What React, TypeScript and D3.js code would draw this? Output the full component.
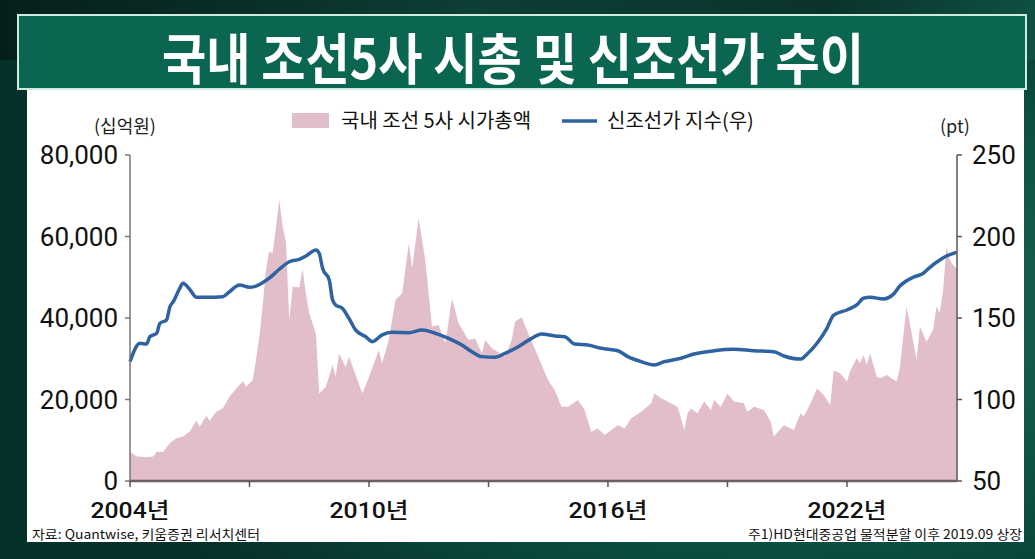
import React from 'react';
import * as d3 from 'd3';

// ---- data ----
const capMonths = [
  '2004-01','2004-03','2004-06','2004-08','2004-09','2004-11','2005-01','2005-03','2005-05','2005-07',
  '2005-09','2005-10','2005-12','2006-01','2006-03','2006-05','2006-07','2006-09','2006-11','2006-12',
  '2007-02','2007-03','2007-04','2007-05','2007-06','2007-07','2007-08','2007-09','2007-10','2007-11',
  '2007-12','2008-01','2008-02','2008-04','2008-05','2008-06','2008-07','2008-09','2008-10','2008-12',
  '2009-02','2009-03','2009-04','2009-06','2009-07','2009-11','2010-01','2010-04','2010-05','2010-07',
  '2010-09','2010-11','2011-01','2011-02','2011-04','2011-06','2011-08','2011-10','2011-12','2012-02',
  '2012-04','2012-07','2012-09','2012-11','2012-12','2013-02','2013-06','2013-08','2013-09','2013-11',
  '2014-01','2014-04','2014-07','2014-09','2014-11','2015-01','2015-04','2015-06','2015-08','2015-10',
  '2015-12','2016-04','2016-06','2016-08','2016-11','2017-02','2017-03','2017-05','2017-07','2017-10',
  '2017-12','2018-01','2018-02','2018-04','2018-06','2018-08','2018-09','2018-11','2019-01','2019-03',
  '2019-06','2019-07','2019-09','2019-12','2020-02','2020-03','2020-06','2020-09','2020-11','2020-12',
  '2021-02','2021-04','2021-06','2021-08','2021-09','2021-11','2022-01','2022-02','2022-04','2022-05',
  '2022-06','2022-07','2022-08','2022-10','2022-11','2023-01','2023-04','2023-05','2023-07','2023-08',
  '2023-10','2023-11','2024-01','2024-03','2024-04','2024-05','2024-06','2024-07','2024-08','2024-09',
  '2024-10'
];
const marketCap = [
  7200,6100,5800,6000,7200,7200,9300,10500,10900,12100,
  14800,13300,16000,14800,17000,17800,20700,22700,24500,23100,
  24800,29700,35400,42800,51800,56300,55900,62400,69000,62400,
  58700,39500,47700,47500,52000,46100,41200,36200,21500,23100,
  28500,25600,31300,28000,30500,21500,25600,32100,28900,34600,
  44400,46100,58300,52200,64500,54200,37900,38300,33800,44800,
  38700,34600,35000,31300,34600,32600,30500,34600,39100,40200,
  36200,30500,24800,22300,18200,18200,19900,17400,12100,12900,
  11300,13700,12900,15400,17000,19100,21500,20300,19500,18200,
  12500,16600,17800,16600,19500,17400,19900,18200,21500,19500,
  19100,17000,18200,17400,14600,10900,13700,12500,16600,15800,
  19100,22700,21100,18700,27200,26400,24400,27100,30100,28900,
  30900,28500,31300,25600,25200,26000,24400,27700,42800,38700,
  29700,37900,34200,37100,42800,41200,46900,57500,54200,53000,
  52000
];
const indexMonths = [
  '2004-01','2004-04','2004-06','2004-07','2004-09','2004-10','2004-12','2005-01','2005-02','2005-04',
  '2005-05','2005-07','2005-09','2005-12','2006-05','2006-07','2006-10','2007-01','2007-03','2007-07',
  '2007-10','2008-01','2008-04','2008-06','2008-09','2008-10','2008-11','2009-01','2009-02','2009-03',
  '2009-05','2009-07','2009-09','2009-12','2010-02','2010-05','2010-08','2011-01','2011-05','2011-09',
  '2012-01','2012-05','2012-08','2012-11','2013-03','2013-06','2013-10','2014-02','2014-05','2014-09',
  '2014-12','2015-03','2015-07','2015-11','2016-04','2016-07','2016-11','2017-03','2017-06','2017-11',
  '2018-03','2018-09','2019-03','2019-09','2020-03','2020-06','2020-11','2021-01','2021-04','2021-07',
  '2021-09','2022-01','2022-04','2022-06','2022-08','2022-12','2023-03','2023-05','2023-09','2023-12',
  '2024-02','2024-05','2024-07','2024-10'
];
const newbuildIndex = [
  123.2,134.5,134.0,138.5,140.6,146.7,148.8,156.9,160.0,168.2,
  171.3,167.6,162.7,162.7,163.1,166.1,170.2,168.8,169.6,174.4,
  179.9,184.5,186.0,188.0,191.7,189.7,180.5,173.3,161.0,158.0,
  156.0,149.8,142.6,138.5,135.5,139.6,141.2,141.0,142.6,140.6,
  137.5,133.4,129.3,126.3,125.9,128.3,132.4,137.5,140.2,139.0,
  138.5,134.0,133.4,131.4,129.9,126.3,123.2,121.2,123.2,125.3,
  127.9,129.9,130.8,129.9,129.3,126.7,124.8,127.9,134.5,143.7,
  151.8,154.9,158.0,162.1,162.7,161.7,164.5,169.6,175.0,177.4,
  181.1,185.6,188.0,190.3
];
const leftTicks = [0, 20000, 40000, 60000, 80000];
const rightTicks = [50, 100, 150, 200, 250];
const xTickYears = [2004, 2007, 2010, 2013, 2016, 2019, 2022];
const xLabelYears = [2004, 2010, 2016, 2022];

const FONT = "'Noto Sans CJK KR', 'Noto Sans', sans-serif";
const NUM_FONT = "Roboto, 'Noto Sans CJK KR', sans-serif";

export default function App() {
  const parse = d3.timeParse('%Y-%m');
  const x = d3.scaleTime().domain([new Date(2004, 0, 1), new Date(2024, 9, 6)]).range([130, 957]);
  const yL = d3.scaleLinear().domain([0, 80000]).range([481, 155]);
  const yR = d3.scaleLinear().domain([50, 250]).range([481, 155]);

  const capData = capMonths.map((m, i) => ({ d: parse(m) as Date, v: marketCap[i] }));
  const idxData = indexMonths.map((m, i) => ({ d: parse(m) as Date, v: newbuildIndex[i] }));

  const areaGen = d3.area<any>().x(d => x(d.d)).y0(yL(0)).y1(d => yL(d.v));
  const lineGen = d3.line<any>().x(d => x(d.d)).y(d => yR(d.v)).curve(d3.curveMonotoneX);
  const fmt = d3.format(',');

  const [x0, x1] = x.range();
  const [yb, yt] = yL.range();

  return (
    <svg width={1035} height={559} style={{ position: 'absolute', left: 0, top: 0 }} fontFamily={FONT}>
      <defs>
        <radialGradient id="bg1" cx="0.75" cy="0.55" r="0.7">
          <stop offset="0" stopColor="#1f6d5e" />
          <stop offset="0.6" stopColor="#0c4f42" />
          <stop offset="1" stopColor="#06302a" />
        </radialGradient>
        <linearGradient id="bgTop" x1="0" y1="0" x2="1" y2="0">
          <stop offset="0" stopColor="#071a16" />
          <stop offset="0.45" stopColor="#0d4036" />
          <stop offset="0.8" stopColor="#0a2f28" />
          <stop offset="1" stopColor="#0f5546" />
        </linearGradient>
      </defs>
      <rect x={0} y={0} width={1035} height={559} fill="url(#bg1)" />
      <rect x={0} y={0} width={1035} height={60} fill="url(#bgTop)" opacity={0.8} />

      {/* white panel */}
      <rect x={27} y={88} width={997} height={454} fill="#ffffff" />

      {/* title box */}
      <rect x={18} y={15} width={1008} height={74} fill="#0b6651" stroke="#cfeadf" strokeWidth={2} />
      <text x={513} y={79} textAnchor="middle" fill="#ffffff" fontSize={55} fontWeight={700}
        textLength={702} lengthAdjust="spacingAndGlyphs">국내 조선5사 시총 및 신조선가 추이</text>

      {/* legend */}
      <rect x={292} y={113} width={37} height={15} fill="#e2bdca" />
      <text x={341} y={128} fontSize={20} fill="#111">국내 조선 5사 시가총액</text>
      <line x1={562} x2={597} y1={121} y2={121} stroke="#2e62a0" strokeWidth={3.5} />
      <text x={607} y={128} fontSize={20} fill="#111">신조선가 지수(우)</text>

      <text x={94} y={133} fontSize={18} fill="#222">(십억원)</text>
      <text x={940} y={133} fontSize={18} fill="#222">(pt)</text>

      {/* area + line */}
      <path d={areaGen(capData) as string} fill="#e2bdca" />
      <path d={lineGen(idxData) as string} fill="none" stroke="#2e62a0" strokeWidth={3.5} strokeLinejoin="round" />

      {/* left axis */}
      <line x1={x0} x2={x0} y1={yt} y2={yb} stroke="#777" strokeWidth={1.5} />
      {leftTicks.map(t => (
        <g key={'l' + t}>
          <line x1={x0 - 5} x2={x0} y1={yL(t)} y2={yL(t)} stroke="#777" strokeWidth={1.5} />
          <text x={118} y={yL(t)} dy="0.36em" textAnchor="end" fontSize={26} fill="#111"
            fontFamily={NUM_FONT}>{fmt(t)}</text>
        </g>
      ))}

      {/* right axis */}
      <line x1={x1} x2={x1} y1={yt} y2={yb} stroke="#555" strokeWidth={1.5} />
      {rightTicks.map(t => (
        <g key={'r' + t}>
          <line x1={x1} x2={x1 + 5} y1={yR(t)} y2={yR(t)} stroke="#555" strokeWidth={1.5} />
          <text x={972} y={yR(t)} dy="0.36em" textAnchor="start" fontSize={26} fill="#111"
            fontFamily={NUM_FONT}>{t}</text>
        </g>
      ))}

      {/* bottom axis */}
      <line x1={x0} x2={x1} y1={yb} y2={yb} stroke="#6a6064" strokeWidth={2.5} />
      {xTickYears.map(yr => (
        <line key={'t' + yr} x1={x(new Date(yr, 0, 1))} x2={x(new Date(yr, 0, 1))} y1={yb} y2={yb + 6} stroke="#555" strokeWidth={1.5} />
      ))}
      {xLabelYears.map(yr => (
        <text key={'x' + yr} x={x(new Date(yr, 0, 1))} y={518} textAnchor="middle" fontSize={22}
          fontWeight={500} fill="#111" fontFamily={NUM_FONT}
          textLength={79} lengthAdjust="spacingAndGlyphs">{yr}년</text>
      ))}

      {/* footnotes */}
      <text x={32} y={539} fontSize={13} fill="#111" textLength={228} lengthAdjust="spacingAndGlyphs">자료: Quantwise, 키움증권 리서치센터</text>
      <text x={1022} y={539} fontSize={13} fill="#111" textAnchor="end" textLength={274} lengthAdjust="spacingAndGlyphs">주1)HD현대중공업 물적분할 이후 2019.09 상장</text>
    </svg>
  );
}
